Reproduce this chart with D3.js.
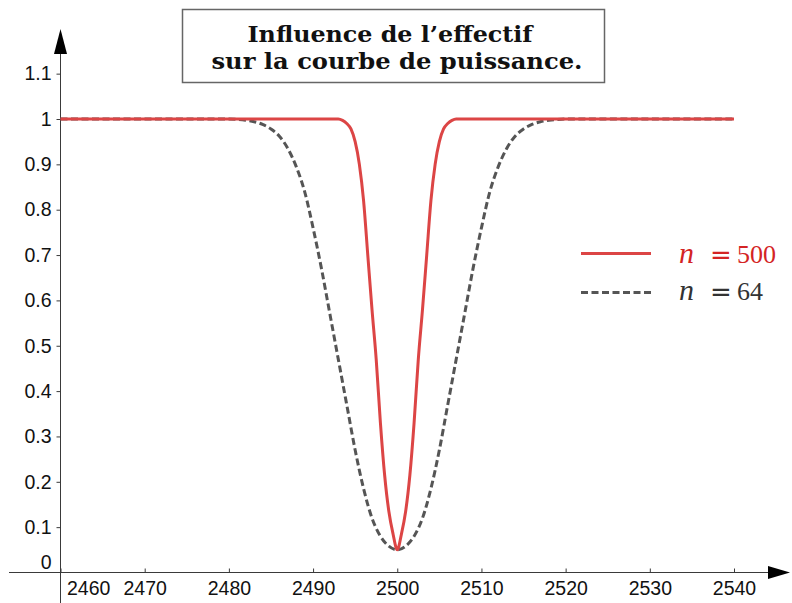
<!DOCTYPE html>
<html>
<head>
<meta charset="utf-8">
<script src="https://cdn.jsdelivr.net/npm/d3@7"></script>
<style>
  html, body { margin: 0; padding: 0; background: #fff; }
  svg { display: block; }
</style>
</head>
<body>
<svg id="chart" width="792" height="603"></svg>
<script>
// ---- Data ----
const titleLines = ["Influence de l\u2019effectif", "sur la courbe de puissance."];

const xTicks = [2460, 2470, 2480, 2490, 2500, 2510, 2520, 2530, 2540];
const yTicks = [0, 0.1, 0.2, 0.3, 0.4, 0.5, 0.6, 0.7, 0.8, 0.9, 1, 1.1];

// n = 64 (dashed grey)
const xN64 = [2460, 2470, 2480, 2481, 2482, 2483, 2484, 2485, 2486, 2487, 2488, 2489,
  2490, 2491, 2492, 2493, 2494, 2495, 2496, 2497, 2498, 2499, 2500,
  2501, 2502, 2503, 2504, 2505, 2506, 2507, 2508, 2509, 2510,
  2511, 2512, 2513, 2514, 2515, 2516, 2517, 2518, 2519, 2520, 2530, 2540];
const yN64 = [1, 1, 1, 0.999, 0.997, 0.994, 0.988, 0.978, 0.962, 0.935, 0.895, 0.840,
  0.760, 0.670, 0.570, 0.470, 0.370, 0.270, 0.185, 0.120, 0.080, 0.058, 0.050,
  0.058, 0.080, 0.120, 0.185, 0.270, 0.370, 0.470, 0.570, 0.670, 0.760,
  0.840, 0.895, 0.935, 0.962, 0.978, 0.988, 0.994, 0.997, 0.999, 1, 1, 1];

// n = 500 (solid red)
const xN500 = [2460, 2480, 2490, 2493, 2493.5, 2494, 2494.5, 2495, 2495.5, 2496, 2496.5,
  2497, 2497.5, 2498, 2498.5, 2499, 2499.5, 2500,
  2500.5, 2501, 2501.5, 2502, 2502.5, 2503, 2503.5, 2504, 2504.5, 2505, 2505.5,
  2506, 2506.5, 2507, 2510, 2520, 2540];
const yN500 = [1, 1, 1, 1, 0.997, 0.990, 0.978, 0.950, 0.900, 0.820, 0.700,
  0.580, 0.470, 0.330, 0.215, 0.135, 0.085, 0.050,
  0.085, 0.135, 0.215, 0.330, 0.470, 0.580, 0.700, 0.820, 0.900, 0.950, 0.978,
  0.990, 0.997, 1, 1, 1, 1];

const seriesNames = ["500", "64"];

// ---- Drawing ----
const svg = d3.select("#chart");

const x = d3.scaleLinear().domain([2460, 2540]).range([60.5, 734]);
const y = d3.scaleLinear().domain([0, 1]).range([572.5, 119]);

const axisColor = "#3a3a3a";
const redLine = "#dc4545";
const redText = "#d42424";
const greyLine = "#555555";
const labelFont = "'Liberation Sans', Arial, sans-serif";

// Axis lines with arrows
svg.append("line")
  .attr("x1", 9).attr("x2", 772).attr("y1", 572.5).attr("y2", 572.5)
  .attr("stroke", axisColor).attr("stroke-width", 1);
svg.append("path")
  .attr("d", `M790,572.5 L768,566 L768,579 Z`).attr("fill", "#000");

svg.append("line")
  .attr("x1", 60.5).attr("x2", 60.5).attr("y1", 603).attr("y2", 50)
  .attr("stroke", axisColor).attr("stroke-width", 1);
svg.append("path")
  .attr("d", `M60.5,29 L54,54 L67,54 Z`).attr("fill", "#000");

// X axis ticks & labels
const xAxis = d3.axisBottom(x).tickValues(xTicks).tickSize(-4).tickPadding(9)
  .tickFormat(d3.format("d"));
const gx = svg.append("g").attr("transform", "translate(0,572.5)").call(xAxis);
gx.select(".domain").remove();
gx.selectAll(".tick line").attr("stroke", axisColor);
gx.selectAll(".tick text")
  .attr("font-family", labelFont).attr("font-size", 19.5).attr("fill", "#111");
gx.selectAll(".tick").filter(d => d === 2460).select("text")
  .attr("text-anchor", "start").attr("x", 6);

// Y axis ticks & labels
const yAxis = d3.axisLeft(y).tickValues(yTicks).tickSize(4).tickPadding(5)
  .tickFormat(d => d === 0 ? "0" : d3.format("~g")(d));
const gy = svg.append("g").attr("transform", "translate(60.5,0)").call(yAxis);
gy.select(".domain").remove();
gy.selectAll(".tick line").attr("stroke", axisColor);
gy.selectAll(".tick text")
  .attr("font-family", labelFont).attr("font-size", 19.5).attr("fill", "#111");
gy.selectAll(".tick").filter(d => d === 0).select("text").attr("y", -10).attr("x", -9);
gy.selectAll(".tick").filter(d => d === 0).select("line").remove();

// Curves
const line = d3.line().x(d => x(d[0])).y(d => y(d[1])).curve(d3.curveMonotoneX);
const d64 = xN64.map((v, i) => [v, yN64[i]]);
const d500 = xN500.map((v, i) => [v, yN500[i]]);

svg.append("path").datum(d64).attr("d", line)
  .attr("fill", "none").attr("stroke", greyLine).attr("stroke-width", 3)
  .attr("stroke-dasharray", "7,3.5");
svg.append("path").datum(d500).attr("d", line)
  .attr("fill", "none").attr("stroke", redLine).attr("stroke-width", 3)
  .attr("stroke-linejoin", "round");

// Title box
svg.append("rect")
  .attr("x", 182.5).attr("y", 9.5).attr("width", 422).attr("height", 73)
  .attr("fill", "#fff").attr("stroke", "#666").attr("stroke-width", 1.5);
const titleFont = "'DejaVu Serif', 'Liberation Serif', serif";
svg.append("text").attr("x", 390).attr("y", 41.5)
  .attr("text-anchor", "middle").attr("font-family", titleFont)
  .attr("font-weight", "bold").attr("font-size", 22).attr("fill", "#111")
  .attr("textLength", 285).attr("lengthAdjust", "spacingAndGlyphs")
  .text(titleLines[0]);
svg.append("text").attr("x", 397).attr("y", 69)
  .attr("text-anchor", "middle").attr("font-family", titleFont)
  .attr("font-weight", "bold").attr("font-size", 22).attr("fill", "#111")
  .attr("textLength", 371).attr("lengthAdjust", "spacingAndGlyphs")
  .text(titleLines[1]);

// Legend
const legend = svg.append("g");
legend.append("line").attr("x1", 581).attr("x2", 651).attr("y1", 253.5).attr("y2", 253.5)
  .attr("stroke", redLine).attr("stroke-width", 3);
legend.append("line").attr("x1", 581).attr("x2", 651).attr("y1", 292.5).attr("y2", 292.5)
  .attr("stroke", greyLine).attr("stroke-width", 3).attr("stroke-dasharray", "7,3.5");

const serif = "'Liberation Serif', 'Times New Roman', serif";
function legendLabel(yBase, value, color) {
  legend.append("text").attr("x", 679).attr("y", yBase)
    .attr("font-family", serif).attr("font-style", "italic")
    .attr("font-size", 30).attr("fill", color).text("n");
  legend.append("text").attr("x", 721).attr("y", yBase + 1).attr("text-anchor", "middle")
    .attr("font-family", "'DejaVu Sans', sans-serif").attr("font-size", 26)
    .attr("fill", color).text("=");
  legend.append("text").attr("x", 737).attr("y", yBase)
    .attr("font-family", serif).attr("font-size", 26).attr("fill", color).text(value);
}
legendLabel(263, seriesNames[0], redText);
legendLabel(299.5, seriesNames[1], "#333");
</script>
</body>
</html>
